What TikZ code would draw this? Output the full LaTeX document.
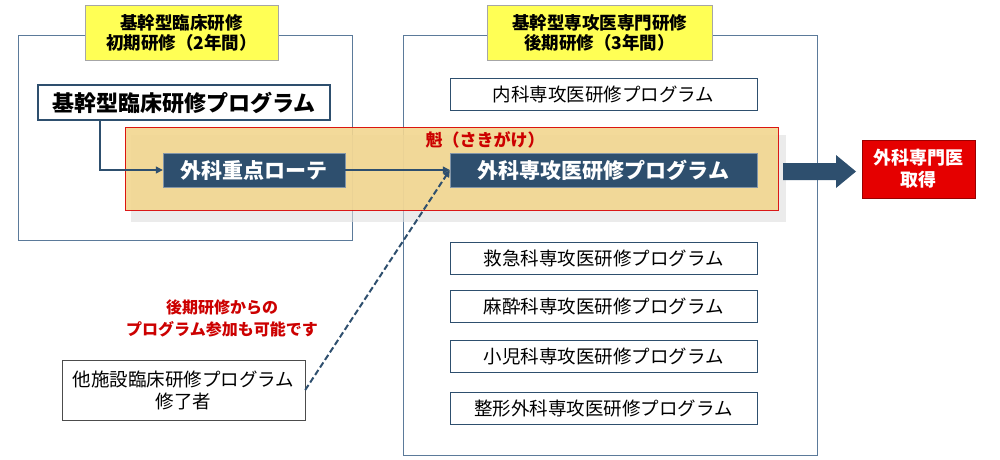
\documentclass[tikz,border=0pt]{standalone}
\usepackage{fontspec}
\setmainfont{Noto Sans CJK JP}
\usetikzlibrary{arrows.meta,shadows}
\definecolor{navy}{HTML}{2E4F6E}
\definecolor{frame}{HTML}{5B7A9A}
\definecolor{gold}{HTML}{F2D690}
\definecolor{lab}{HTML}{FFFF55}
\tikzset{
 frm/.style={draw=frame,line width=0.8pt,fill=white},
 lab/.style={draw=gray!70,fill=lab,align=center,font=\bfseries\fontsize{17.5}{20}\selectfont,inner sep=2pt},
 prog/.style={draw=navy,line width=0.8pt,fill=white,minimum width=307pt,minimum height=32pt,font=\fontsize{18.5}{20}\selectfont},
 dark/.style={draw=navy!60,fill=navy,text=white,font=\bfseries\fontsize{21}{23}\selectfont,minimum height=34pt},
 conn/.style={draw=navy,line width=1.2pt,-{Triangle[length=7pt,width=7pt]}},
}
\begin{document}
\begin{tikzpicture}[x=1pt,y=-1pt]
\useasboundingbox (0,0) rectangle (1000,459);
\draw[frm] (18,35) rectangle (352,240);
\draw[frm] (403,35) rectangle (817,455);
\node[lab,minimum width=193pt,minimum height=55pt] (l1) at (181.5,32.5) {基幹型臨床研修\\初期研修（2年間）};
\node[lab,minimum width=225pt,minimum height=55pt] (l2) at (599.5,32.5) {基幹型専攻医専門研修\\後期研修（3年間）};
\node[draw=navy,line width=2pt,fill=white,minimum width=292pt,minimum height=35pt,font=\bfseries\fontsize{22}{24}\selectfont] (kp) at (184,102.5) {基幹型臨床研修プログラム};
\fill[gray!25,opacity=0.6] (131,135) rectangle (786,222);
\draw[draw=red!85!black,fill=gold,opacity=0.9] (125,127) rectangle (778,210);
\node[text=red!80!black,font=\bfseries\fontsize{17}{19}\selectfont] (sk) at (485,140) {魁（さきがけ）};
\node[dark,minimum width=182pt] (gr) at (254,170) {外科重点ローテ};
\node[dark,minimum width=307pt] (gp) at (603.5,170) {外科専攻医研修プログラム};
\node[prog] (p1) at (603.5,94) {内科専攻医研修プログラム};
\node[prog] (p2) at (603.5,258.5) {救急科専攻医研修プログラム};
\node[prog] (p3) at (603.5,306) {麻酔科専攻医研修プログラム};
\node[prog] (p4) at (603.5,356) {小児科専攻医研修プログラム};
\node[prog] (p5) at (603.5,408.5) {整形外科専攻医研修プログラム};
\node[fill=red!90!black,draw=red!60!black,text=white,align=center,minimum width=113pt,minimum height=58pt,font=\bfseries\fontsize{18}{22}\selectfont] (sg) at (918.5,169) {外科専門医\\取得};
\fill[navy] (783,163) -- (836,163) -- (836,155) -- (856,171.5) -- (836,188) -- (836,180) -- (783,180) -- cycle;
\node[text=red!80!black,align=center,font=\bfseries\fontsize{16}{22}\selectfont] (nt) at (222,318) {後期研修からの\\プログラム参加も可能です};
\node[draw=black!70,fill=white,align=center,minimum width=243pt,minimum height=60pt,font=\fontsize{18.5}{22}\selectfont] (ot) at (183.5,390) {他施設臨床研修プログラム\\修了者};
\draw[conn] (100,120) |- (gr.west);
\draw[conn] (gr.east) -- (gp.west);
\draw[conn,dash pattern=on 6pt off 3pt,line width=2pt] (ot.east) -- (gp.west);
\end{tikzpicture}
\end{document}
